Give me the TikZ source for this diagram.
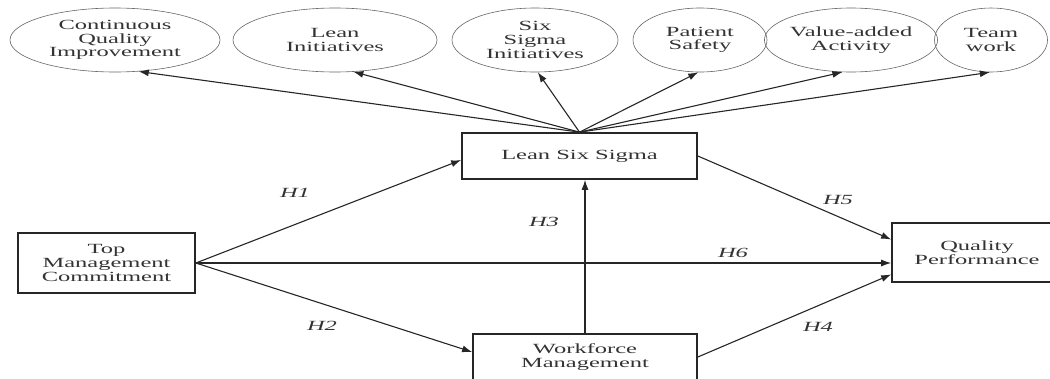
\documentclass[tikz,border=0pt]{standalone}
\usepackage{fontspec}
\setmainfont[FakeStretch=1.75]{Liberation Serif}
\usetikzlibrary{shapes.geometric,arrows.meta}
\definecolor{ink}{gray}{0.15}
\definecolor{txt}{gray}{0.2}
\begin{document}
\begin{tikzpicture}[x=1pt,y=-1pt,
  every node/.style={font=\fontsize{14}{13.7}\selectfont, text=txt, align=center},
  oval/.style={ellipse, draw=gray!80!black, line width=0.6pt, inner sep=0pt, minimum height=64pt},
  boxnode/.style={rectangle, draw=ink, line width=1.7pt, inner sep=0pt},
  arr/.style={draw=ink, line width=1.1pt, -{Latex[length=10pt,width=7pt]}},
  hyp/.style={font=\fontsize{14}{13.7}\selectfont\itshape, text=txt}]
\useasboundingbox (0,0) rectangle (1050,378);
% ellipses
\node[oval, minimum width=210pt] (e1) at (115,40) {Continuous\\Quality\\Improvement};
\node[oval, minimum width=204pt] (e2) at (335,40) {Lean\\Initiatives};
\node[oval, minimum width=166pt] (e3) at (535,40) {Six\\Sigma\\Initiatives};
\node[oval, minimum width=134pt] (e4) at (700,40) {Patient\\Safety};
\node[oval, minimum width=137pt] (e5) at (851,40) {Value-added\\Activity};
\node[oval, minimum width=113pt] (e6) at (991,40) {Team\\work};
% boxes
\node[boxnode, minimum width=235pt, minimum height=46pt] (lss) at (579.5,156) {Lean Six Sigma};
\node[boxnode, minimum width=177pt, minimum height=60pt] (tmc) at (106.5,263) {Top\\Management\\Commitment};
\node[boxnode, minimum width=224pt, minimum height=46pt] (wm) at (585,357) {Workforce\\Management};
\node[boxnode, minimum width=170pt, minimum height=59pt] (qp) at (977,252.5) {Quality\\Performance};
% arrows to ellipses
\draw[arr] (lss.north) -- (e1.-53.6);
\draw[arr] (lss.north) -- (e2.-60.3);
\draw[arr] (lss.north) -- (e3.-85);
\draw[arr] (lss.north) -- (e4.-93.6);
\draw[arr] (lss.north) -- (e5.-105.8);
\draw[arr] (lss.north) -- (e6.-92);
% hypotheses
\draw[arr] (tmc.east) -- ([yshift=-4pt]lss.west);
\draw[arr] (tmc.east) -- ([yshift=5pt]wm.west);
\draw[arr] (tmc.east) -- (tmc.east -| qp.west);
\draw[arr] (wm.north) -- (wm.north |- lss.south);
\draw[arr] (lss.east) -- ([yshift=13pt]qp.west);
\draw[arr] (wm.east) -- ([yshift=-22pt]qp.west);
\node[hyp] (h1) at (295,193) {H1};
\node[hyp] (h2) at (322,326) {H2};
\node[hyp] (h3) at (544,222) {H3};
\node[hyp] (h5) at (838,200) {H5};
\node[hyp] (h6) at (733,253) {H6};
\node[hyp] (h4) at (818,327) {H4};
\end{tikzpicture}
\end{document}
